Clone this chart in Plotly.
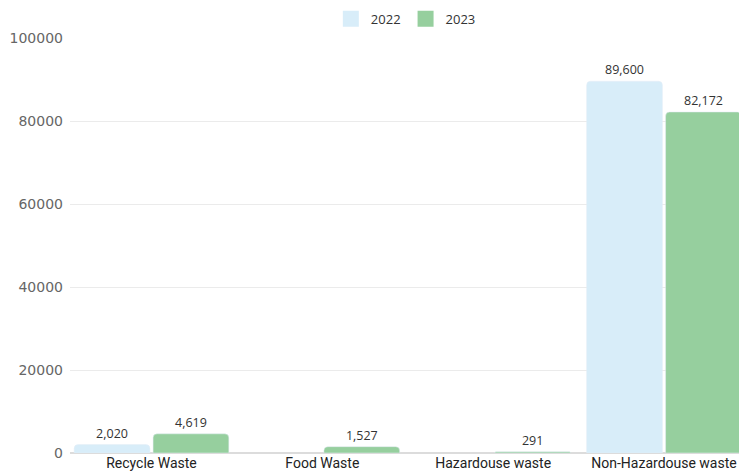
import plotly.graph_objects as go

categories = ["Recycle Waste", "Food Waste", "Hazardouse waste", "Non-Hazardouse waste"]
values_2022 = [2020, None, None, 89600]
values_2023 = [4619, 1527, 291, 82172]
labels_2022 = ["2,020", "", "", "89,600"]
labels_2023 = ["4,619", "1,527", "291", "82,172"]
y_ticks = [0, 20000, 40000, 60000, 80000, 100000]
series_names = ["2022", "2023"]
colors = ["#d8edf9", "#96cf9e"]

fig = go.Figure()
for name, vals, labs, col in zip(series_names, [values_2022, values_2023],
                                 [labels_2022, labels_2023], colors):
    fig.add_trace(go.Bar(name=name, x=categories, y=vals, text=labs,
                         textposition="outside", marker_color=col,
                         textfont=dict(family="Open Sans", size=12.5, color="#333333"),
                         cliponaxis=False, showlegend=False))
# legend swatches (square markers)
for name, col in zip(series_names, colors):
    fig.add_trace(go.Scatter(name=name, x=[None], y=[None], mode="markers",
                             marker=dict(symbol="square", size=16, color=col),
                             showlegend=True))

fig.update_layout(
    width=739, height=474,
    margin=dict(l=70, r=0, t=38, b=21),
    paper_bgcolor="white", plot_bgcolor="white",
    font=dict(family="Roboto", size=12, color="#333333"),
    barmode="group", bargap=0.076, bargroupgap=0.04,
    barcornerradius=4,
    legend=dict(orientation="h", x=0.502, xanchor="center", y=1.01, yanchor="bottom",
                font=dict(family="Open Sans", size=13, color="#333333"),
                itemwidth=30, tracegroupgap=0),
    xaxis=dict(range=[-0.477, 3.439], showgrid=False, showline=False, ticks="",
               tickfont=dict(family="Roboto", size=14, color="#222222")),
    yaxis=dict(range=[0, 100000], tickvals=y_ticks, tickformat="d",
               gridcolor="#ebebeb", zeroline=True, zerolinecolor="#dcdcdc",
               ticks="", ticklen=0, ticklabelstandoff=6,
               tickfont=dict(family="DejaVu Sans", size=14, color="#666666")),
)
fig.write_html("out.html")
